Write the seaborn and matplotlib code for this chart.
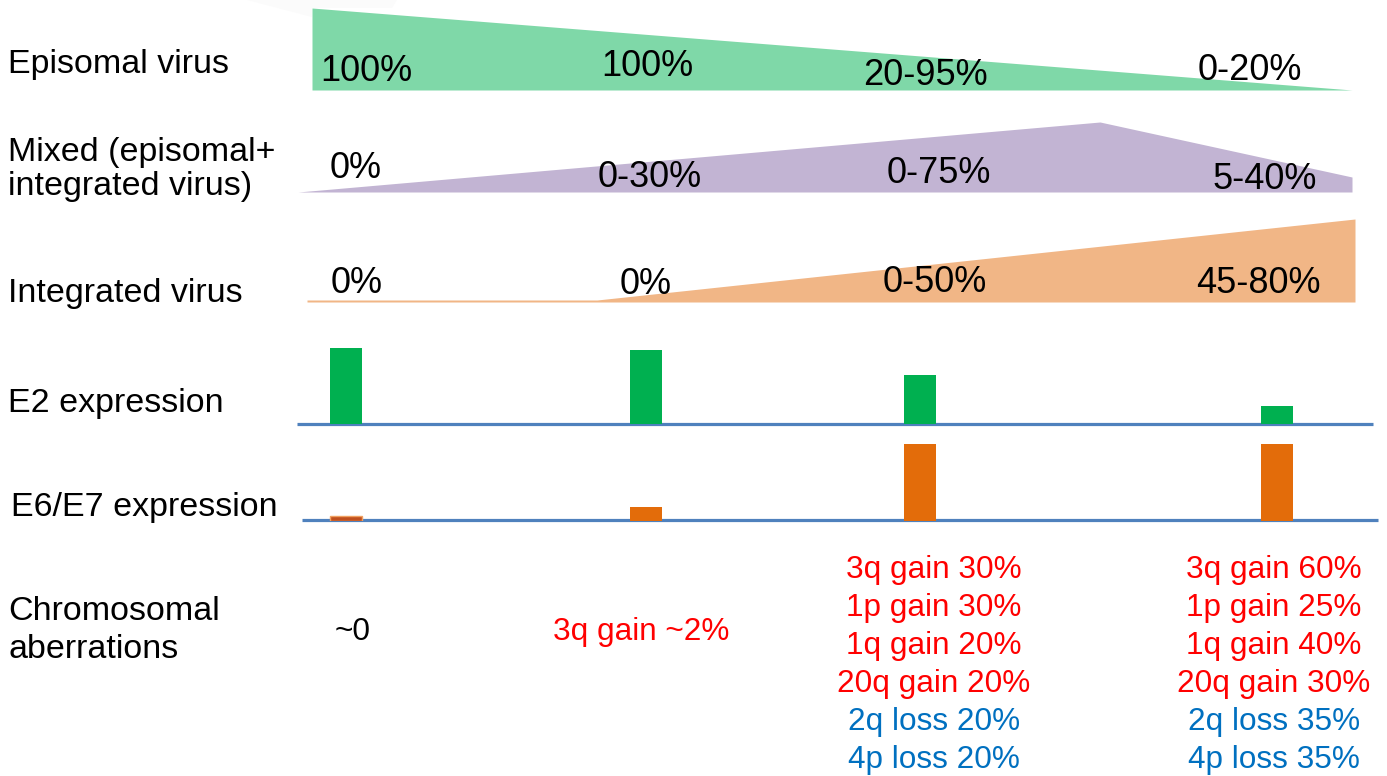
import numpy as np
import pandas as pd
import matplotlib
matplotlib.use("Agg")
import matplotlib.pyplot as plt
import seaborn as sns

# ---------------- data ----------------
row_labels = ["Episomal virus", "Mixed (episomal+\nintegrated virus)", "Integrated virus",
              "E2 expression", "E6/E7 expression", "Chromosomal\naberrations"]

episomal_pct = ["100%", "100%", "20-95%", "0-20%"]
mixed_pct = ["0%", "0-30%", "0-75%", "5-40%"]
integrated_pct = ["0%", "0%", "0-50%", "45-80%"]

# wedge profiles: knot positions along the progression axis and band thickness
episomal_knots = [312, 1352]
episomal_thick = [82, 0]
mixed_knots = [298, 1100, 1352]
mixed_thick = [0, 70, 15]
integrated_knots = [307, 597, 1355]
integrated_thick = [2, 2, 83]

stage_x = [346, 646, 920, 1277]
e2_expression = [76, 74, 49, 18]
e6e7_expression = [5, 14, 77, 77]

chrom_stage1 = ["~0"]
chrom_stage2 = ["3q gain ~2%"]
chrom_stage3 = ["3q gain 30%", "1p gain 30%", "1q gain 20%", "20q gain 20%", "2q loss 20%", "4p loss 20%"]
chrom_stage4 = ["3q gain 60%", "1p gain 25%", "1q gain 40%", "20q gain 30%", "2q loss 35%", "4p loss 35%"]

# ---------------- style ----------------
sns.set_theme(style="white")
plt.rcParams["font.family"] = ["Liberation Sans", "DejaVu Sans"]
plt.rcParams["text.color"] = "black"

W, H = 1387, 776
fig = plt.figure(figsize=(W / 100, H / 100), dpi=100)
ax = fig.add_axes([0, 0, 1, 1])
ax.set_xlim(0, W)
ax.set_ylim(H, 0)
ax.axis("off")

GREEN_W = "#7fd8a8"
PURPLE_W = "#c2b4d3"
ORANGE_W = "#f1b686"
GREEN_B = "#00b050"
ORANGE_B = "#e36c0a"
LINE_B = "#4f81bd"
RED = "#ff0000"
BLUE = "#0070c0"

# faint shadow at the top
ax.fill([247, 397, 392, 312, 312], [0, 0, 8, 8, 17], color="#fbfbfb", lw=0, zorder=0)


def wedge(knots, thick, base, color):
    xs = np.array(knots, dtype=float)
    ts = np.array(thick, dtype=float)
    ax.fill_between(xs, base - ts, base, color=color, lw=0, zorder=1)


wedge(episomal_knots, episomal_thick, 90, GREEN_W)
wedge(mixed_knots, mixed_thick, 192, PURPLE_W)
wedge(integrated_knots, integrated_thick, 302, ORANGE_W)

# baselines for expression rows
ax.plot([297, 1373], [424, 424], color=LINE_B, lw=2.3, zorder=2, solid_capstyle="butt")
ax.plot([302, 1378], [520, 520], color=LINE_B, lw=2.3, zorder=2, solid_capstyle="butt")

# bars drawn with seaborn on row axes (baseline at axis bottom)
scale_px = 90.0


def bar_axes(base_y):
    a = fig.add_axes([0, (H - base_y) / H, 1, scale_px / H])
    a.patch.set_alpha(0)
    return a


ax_e2 = bar_axes(424)
df_e2 = pd.DataFrame({"x": stage_x, "v": e2_expression})
sns.barplot(data=df_e2, x="x", y="v", native_scale=True, width=32 / 274,
            color=GREEN_B, saturation=1, ax=ax_e2, errorbar=None, linewidth=0, zorder=1)
ax_e6 = bar_axes(521)
df_e6 = pd.DataFrame({"x": stage_x, "v": e6e7_expression})
sns.barplot(data=df_e6, x="x", y="v", native_scale=True, width=32 / 274,
            color=ORANGE_B, saturation=1, ax=ax_e6, errorbar=None, linewidth=0, zorder=1)
ax_e6.patches[0].set_facecolor("#c0501e")
ax_e6.patches[0].set_edgecolor("#f0a060")
ax_e6.patches[0].set_linewidth(1)
for a in (ax_e2, ax_e6):
    a.set_xlim(0, W)
    a.set_ylim(0, scale_px)
    a.axis("off")

# row labels
LBL = 24.5
ax.text(8, 73, "Episomal virus", fontsize=LBL, va="baseline", ha="left")
ax.text(8, 161, "Mixed (episomal+", fontsize=LBL, va="baseline", ha="left")
ax.text(8, 195, "integrated virus)", fontsize=LBL, va="baseline", ha="left")
ax.text(8, 302, "Integrated virus", fontsize=LBL, va="baseline", ha="left")
ax.text(8, 412, "E2 expression", fontsize=LBL, va="baseline", ha="left")
ax.text(11, 516, "E6/E7 expression", fontsize=LBL, va="baseline", ha="left")
ax.text(8, 620, "Chromosomal", fontsize=LBL, va="baseline", ha="left")
ax.text(8, 658, "aberrations", fontsize=LBL, va="baseline", ha="left")

# percentages
PCT = 26
row1 = [(320, 81), (601, 76), (863, 85), (1198, 80)]
row2 = [(330, 178), (598, 187), (887, 183), (1212, 189)]
row3 = [(331, 293), (620, 294), (883, 292), (1196, 293)]
for labels, pos in ((episomal_pct, row1), (mixed_pct, row2), (integrated_pct, row3)):
    for t, (x, y) in zip(labels, pos):
        ax.text(x, y, t, fontsize=PCT, va="baseline", ha="left", zorder=3)

# chromosomal aberrations
CH = 22.7
ax.text(335, 640, chrom_stage1[0], fontsize=CH, va="baseline", ha="left", color="black")
ax.text(553, 640, chrom_stage2[0], fontsize=CH, va="baseline", ha="left", color=RED)
for i, (a3, a4) in enumerate(zip(chrom_stage3, chrom_stage4)):
    y = 578 + i * 38
    col = BLUE if "loss" in a3 else RED
    ax.text(934, y, a3, fontsize=CH, va="baseline", ha="center", color=col)
    ax.text(1274, y, a4, fontsize=CH, va="baseline", ha="center", color=col)

fig.savefig("out.png", dpi=100)
